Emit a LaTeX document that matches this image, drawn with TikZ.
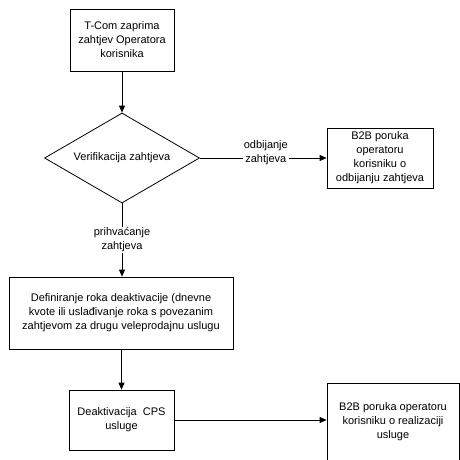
\documentclass[tikz,border=0pt]{standalone}
\usepackage{fontspec}
\setmainfont{Liberation Sans}
\usetikzlibrary{shapes.geometric,arrows.meta}
\begin{document}
\begin{tikzpicture}[x=1pt,y=-1pt,
  font=\fontsize{11}{14}\selectfont,
  box/.style={draw, line width=0.8pt, rectangle, align=center, inner sep=0pt},
  arr/.style={line width=0.8pt, -{Triangle[length=7pt,width=6pt]}},
  lbl/.style={fill=white, align=center, inner sep=1pt}]
\useasboundingbox (0,0) rectangle (460,459);
\clip (0,0) rectangle (460,459);
\node[box, minimum width=104pt, minimum height=62pt] (start) at (122,40) {T-Com zaprima\\zahtjev Operatora\\korisnika};
\node[draw, line width=0.8pt, diamond, aspect=1.72, inner sep=0pt, minimum width=155pt, minimum height=90pt] (verif) at (122,158) {Verifikacija zahtjeva};
\node[box, minimum width=106pt, minimum height=60pt] (odb) at (380,158) {B2B poruka\\operatoru\\korisniku o\\odbijanju zahtjeva};
\node[box, minimum width=224pt, minimum height=72pt] (def) at (121,313) {Definiranje roka deaktivacije (dnevne\\kvote ili usla\dj ivanje roka s povezanim\\zahtjevom za drugu veleprodajnu uslugu};
\node[box, minimum width=105pt, minimum height=60pt] (deakt) at (121.5,420) {Deaktivacija\ \ CPS\\usluge};
\node[box, minimum width=132pt, minimum height=78pt] (real) at (393,422) {B2B poruka operatoru\\korisniku o realizaciji\\usluge};
\draw[arr] (start) -- (verif.north);
\draw[arr] (verif.east) -- node[lbl, pos=0.52, yshift=5pt] {odbijanje\\zahtjeva} (odb.west);
\draw[arr] (verif.south) -- node[lbl, pos=0.5] {prihva\'canje\\zahtjeva} (def.north -| verif.south);
\draw[arr] (def.south -| deakt.north) -- (deakt.north);
\draw[arr] (deakt.east) -- (real.west |- deakt.east);
\end{tikzpicture}
\end{document}
